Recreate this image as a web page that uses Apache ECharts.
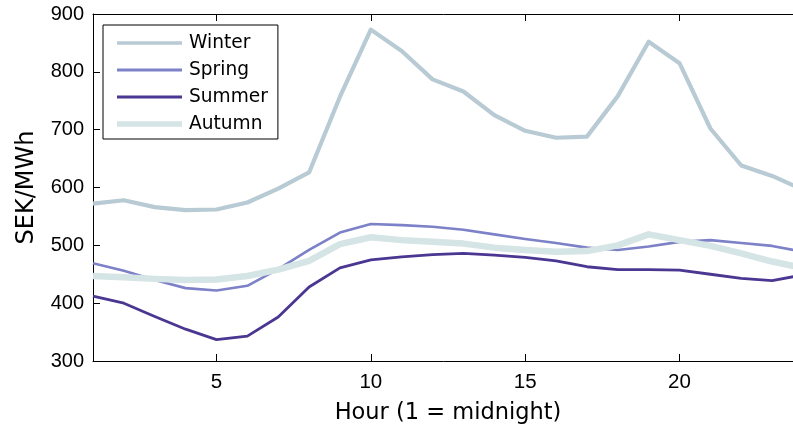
<!DOCTYPE html>
<html>
<head>
<meta charset="utf-8">
<script src="https://cdn.jsdelivr.net/npm/echarts@6/dist/echarts.min.js"></script>
<style>
  html, body { margin: 0; padding: 0; background: #fff; }
  #chart { width: 793px; height: 426px; }
</style>
</head>
<body>
<div id="chart"></div>
<script>
// Average electricity price per hour of day, by season (SEK/MWh)
const hours = [1,2,3,4,5,6,7,8,9,10,11,12,13,14,15,16,17,18,19,20,21,22,23,24];
const winter = [572,578,566,561,562,574,598,626,757,873,836,787,766,725,698,686,688,758,852,815,702,638,620,596];
const spring = [469,456,440,426,422,430,459,492,522,537,535,532,527,519,511,504,496,492,498,506,509,504,499,489];
const summer = [412,400,377,355,337,343,376,428,461,475,480,484,486,483,479,473,463,458,458,457,450,443,439,449];
const autumn = [447,445,442,440,441,447,458,473,502,514,509,506,503,496,492,489,490,500,519,509,499,486,472,461];
const xTicks = [5,10,15,20];
const seasonNames = ['Winter','Spring','Summer','Autumn'];

const numFont = '"Liberation Sans", Arial, sans-serif';
const textFont = '"DejaVu Sans", sans-serif';
const pair = (vals) => hours.map((h, i) => [h, vals[i]]);

// season -> [colour, line width]
const styles = {
  Winter: ['#b8cad4', 4.2],
  Spring: ['#7c81c8', 2.6],
  Summer: ['#4b3692', 2.8],
  Autumn: ['#d5e4e4', 6.5]
};
const legendIcon = (w) => 'path://M0,0H65V' + w + 'H0Z';

const chart = echarts.init(document.getElementById('chart'), null, { renderer: 'canvas' });

const baseX = {
  type: 'value', min: 1, max: 24,
  axisLine: { show: true, lineStyle: { color: '#000', width: 1 } },
  axisTick: { show: true, inside: true, length: 7, customValues: xTicks, lineStyle: { color: '#000' } },
  splitLine: { show: false }
};

const lineSeries = (name, vals) => ({
  name, type: 'line', data: pair(vals),
  symbol: 'none', showSymbol: false, smooth: false,
  lineStyle: { color: styles[name][0], width: styles[name][1], join: 'round' },
  itemStyle: { color: styles[name][0] },
  emphasis: { disabled: true }
});

chart.setOption({
  animation: false,
  backgroundColor: '#fff',
  // plot box runs to hour 24, slightly past the right edge of the canvas
  grid: { left: 93, top: 14, width: 710, height: 347, containLabel: false, outerBoundsMode: 'none' },
  xAxis: [
    Object.assign({}, baseX, {
      position: 'bottom',
      name: 'Hour (1 = midnight)', nameLocation: 'middle', nameGap: 41,
      nameTextStyle: { fontFamily: textFont, fontSize: 22.5, color: '#000' },
      axisLabel: { show: true, customValues: xTicks, margin: 11, fontFamily: numFont, fontSize: 20.5, color: '#000' }
    }),
    Object.assign({}, baseX, {
      position: 'top',
      axisLabel: { show: false }
    })
  ],
  yAxis: [
    {
      type: 'value', min: 300, max: 900, interval: 100, position: 'left',
      name: 'SEK/MWh', nameLocation: 'middle', nameGap: 54, nameRotate: 90,
      nameTextStyle: { fontFamily: textFont, fontSize: 24, color: '#000' },
      axisLine: { show: true, lineStyle: { color: '#000', width: 1 } },
      axisTick: { show: true, inside: true, length: 7, lineStyle: { color: '#000' } },
      axisLabel: { margin: 9, fontFamily: numFont, fontSize: 20, color: '#000' },
      splitLine: { show: false }
    },
    {
      type: 'value', min: 300, max: 900, interval: 100, position: 'right',
      axisLine: { show: true, lineStyle: { color: '#000', width: 1 } },
      axisTick: { show: true, inside: true, length: 7, lineStyle: { color: '#000' } },
      axisLabel: { show: false },
      splitLine: { show: false }
    }
  ],
  legend: {
    data: seasonNames.map(n => ({ name: n, icon: legendIcon(n === 'Autumn' ? 5.5 : (n === 'Winter' ? 3.6 : 3)) })),
    orient: 'vertical',
    left: 103, top: 25,
    padding: [8, 10, 5, 14],
    backgroundColor: '#fff',
    borderColor: '#000', borderWidth: 1, borderRadius: 0,
    itemWidth: 65, itemHeight: 14, itemGap: 7,
    symbolKeepAspect: true,
    selectedMode: false,
    textStyle: { fontFamily: textFont, fontSize: 18.6, color: '#000', lineHeight: 20, padding: [0, 0, 0, 2] }
  },
  series: seasonNames.map(n => lineSeries(n, { Winter: winter, Spring: spring, Summer: summer, Autumn: autumn }[n]))
});
</script>
</body>
</html>
